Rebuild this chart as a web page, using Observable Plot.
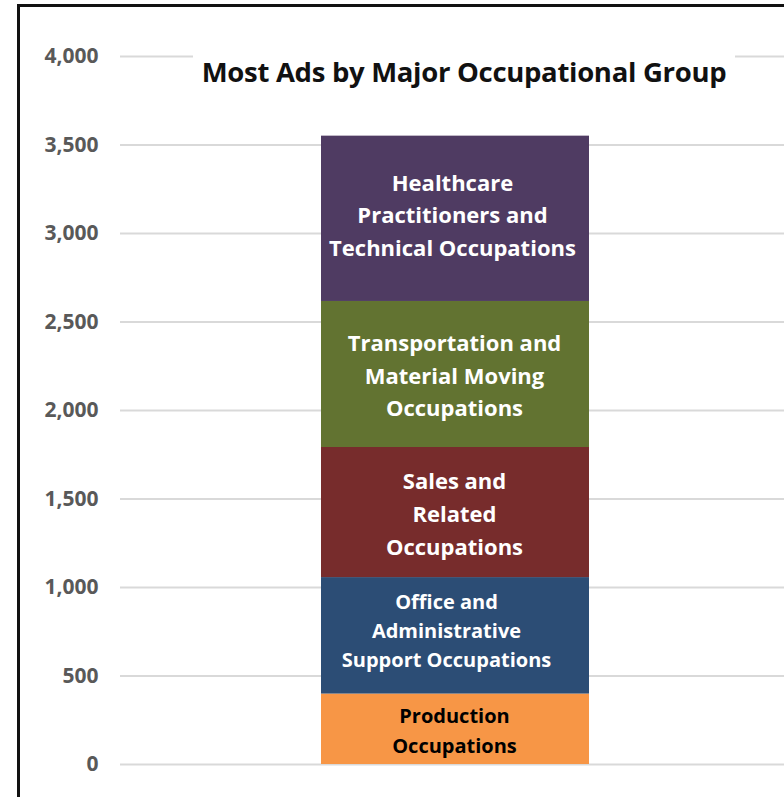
<!DOCTYPE html>
<html><head><meta charset="utf-8">
<script src="https://cdn.jsdelivr.net/npm/d3@7"></script>
<script src="https://cdn.jsdelivr.net/npm/@observablehq/plot@0.6"></script>
<style>
html,body{margin:0;padding:0;background:#fff;}
body{width:784px;height:797px;position:relative;overflow:hidden;font-family:"Open Sans",Lato,sans-serif;}
#chart{position:absolute;left:0;top:0;}
#frame{position:absolute;left:17px;top:4px;width:1000px;height:1000px;border-left:3px solid #111;border-top:3px solid #111;pointer-events:none;}
#title{position:absolute;top:51px;left:193px;width:542px;text-align:center;background:#fff;font-weight:bold;font-size:27.5px;color:#111;line-height:42px;letter-spacing:-0.3px;}
</style>
</head><body>
<div id="chart"></div>
<div id="title">Most Ads by Major Occupational Group</div>
<div id="frame"></div>
<script>
// bottom to top stacking order
const groups = ["Production Occupations","Office and Administrative Support Occupations","Sales and Related Occupations","Transportation and Material Moving Occupations","Healthcare Practitioners and Technical Occupations"];
const labels = ["Production\nOccupations","Office and\nAdministrative\nSupport Occupations","Sales and\nRelated\nOccupations","Transportation and\nMaterial Moving\nOccupations","Healthcare\nPractitioners and\nTechnical Occupations"];
const ads = [398, 658, 735, 825, 934];
const barColors = ["#f79646","#2c4d75","#772c2c","#627331","#4f3b62"];
const labelColors = ["#000000","#ffffff","#ffffff","#ffffff","#ffffff"];
const labelSizes = [20, 20, 22, 22, 22];
const yTicks = [0,500,1000,1500,2000,2500,3000,3500,4000];
// label placement tweaks (styling only)
const labelDx = [-1, -9, -1, -1, -3];
const labelDy = [-1, -7, -1, -1, -6];
const labelLH = [1.5, 1.45, 1.48, 1.48, 1.48];

const data = groups.map((g,i)=>({cat:"All", group:g, label:labels[i], value:ads[i], fill:barColors[i], tfill:labelColors[i], size:labelSizes[i]}));

const textMark = (i) => Plot.text(data, Plot.stackY({x:"cat", y:"value", text:(d)=> d.group===groups[i] ? d.label : "", fill:"tfill", fontSize:"size", fontWeight:"bold", lineHeight:labelLH[i], letterSpacing:-0.2, dx:labelDx[i], dy:labelDy[i], order:null}));

const chart = Plot.plot({
  width:784, height:797,
  marginLeft:120, marginRight:-5, marginTop:56, marginBottom:33,
  style:{fontFamily:"'Open Sans', Lato, sans-serif", background:"transparent"},
  x:{domain:["All"], padding:0.428, axis:null},
  y:{domain:[0,4000]},
  color:{type:"identity"},
  marks:[
    Plot.gridY(yTicks, {stroke:"#d9d9d9", strokeOpacity:1, strokeWidth:2}),
    Plot.axisY(yTicks, {tickSize:0, tickPadding:22, tickFormat:d3.format(","), fontSize:21, fontWeight:"bold", fill:"#595959", letterSpacing:-0.3, label:null}),
    Plot.barY(data, Plot.stackY({x:"cat", y:"value", fill:"fill", order:null})),
    ...groups.map((g,i)=>textMark(i))
  ]
});
document.getElementById("chart").appendChild(chart);
</script>
</body></html>
